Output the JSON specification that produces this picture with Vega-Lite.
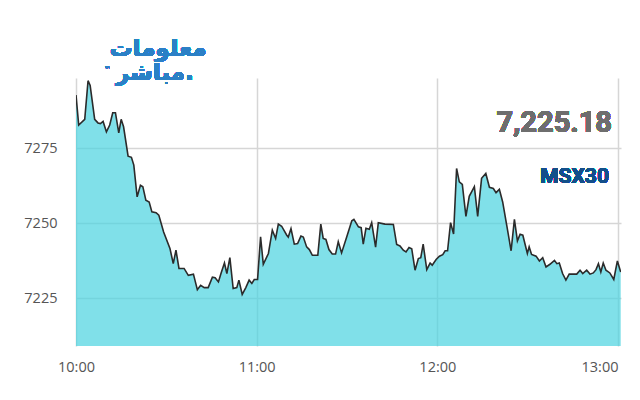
{
  "$schema": "https://vega.github.io/schema/vega-lite/v6.json",
  "autosize": "none",
  "width": 545,
  "height": 268,
  "padding": {"left": 76, "top": 78, "right": 19, "bottom": 54},
  "background": "white",
  "config": {"view": {"stroke": null}},
  "data": {"values": [
    {"t": 0.0, "v": 7292.8}, {"t": 0.9, "v": 7282.8}, {"t": 2.9, "v": 7284.7}, {"t": 4.0, "v": 7297.6},
    {"t": 4.7, "v": 7296}, {"t": 6.2, "v": 7284.7}, {"t": 7.3, "v": 7283.5}, {"t": 8.1, "v": 7283.3},
    {"t": 9.0, "v": 7284}, {"t": 10.1, "v": 7280.5}, {"t": 11.2, "v": 7282.8}, {"t": 12.2, "v": 7286.9},
    {"t": 13.1, "v": 7286.9}, {"t": 14.2, "v": 7280.2}, {"t": 15.0, "v": 7284.7}, {"t": 15.8, "v": 7282.2},
    {"t": 17.3, "v": 7272.4}, {"t": 18.4, "v": 7272}, {"t": 19.2, "v": 7269.4}, {"t": 20.3, "v": 7258.8},
    {"t": 21.4, "v": 7262.7}, {"t": 22.2, "v": 7262.2}, {"t": 23.2, "v": 7257.7}, {"t": 24.3, "v": 7257.1},
    {"t": 25.2, "v": 7253.8}, {"t": 26.6, "v": 7253.5}, {"t": 27.5, "v": 7252.7}, {"t": 29.1, "v": 7247.1},
    {"t": 31.2, "v": 7241.6}, {"t": 32.3, "v": 7236.5}, {"t": 33.2, "v": 7241}, {"t": 34.2, "v": 7234.9},
    {"t": 35.9, "v": 7234.9}, {"t": 37.3, "v": 7232.6}, {"t": 39.0, "v": 7233}, {"t": 40.3, "v": 7227.8},
    {"t": 41.4, "v": 7229.3}, {"t": 42.6, "v": 7228.5}, {"t": 43.9, "v": 7228.5}, {"t": 45.3, "v": 7232},
    {"t": 46.2, "v": 7231.8}, {"t": 47.3, "v": 7230.4}, {"t": 48.2, "v": 7233.4}, {"t": 49.3, "v": 7236.7},
    {"t": 50.1, "v": 7233.2}, {"t": 51.1, "v": 7238.5}, {"t": 52.2, "v": 7228.2}, {"t": 53.4, "v": 7228.5},
    {"t": 54.1, "v": 7231}, {"t": 55.2, "v": 7226.2}, {"t": 56.4, "v": 7228.5}, {"t": 57.5, "v": 7231},
    {"t": 58.4, "v": 7229.9}, {"t": 59.2, "v": 7231.2}, {"t": 60.3, "v": 7231.2}, {"t": 61.3, "v": 7245.5},
    {"t": 62.2, "v": 7236.3}, {"t": 63.9, "v": 7239.9}, {"t": 65.2, "v": 7247.7}, {"t": 66.3, "v": 7244.9},
    {"t": 67.2, "v": 7249.7}, {"t": 68.3, "v": 7249}, {"t": 70.0, "v": 7246}, {"t": 70.5, "v": 7245.4},
    {"t": 71.4, "v": 7248.2}, {"t": 72.5, "v": 7243}, {"t": 73.6, "v": 7243.2}, {"t": 74.7, "v": 7245.7},
    {"t": 75.5, "v": 7245.4}, {"t": 76.6, "v": 7242.1}, {"t": 77.5, "v": 7241.2}, {"t": 78.5, "v": 7239.3},
    {"t": 80.3, "v": 7239.3}, {"t": 81.3, "v": 7249.7}, {"t": 82.1, "v": 7244.9}, {"t": 83.0, "v": 7244.6},
    {"t": 84.0, "v": 7241.2}, {"t": 85.1, "v": 7239.7}, {"t": 86.2, "v": 7239.7}, {"t": 87.1, "v": 7243.8},
    {"t": 88.2, "v": 7240.1}, {"t": 89.9, "v": 7245.4}, {"t": 91.6, "v": 7250.8}, {"t": 92.3, "v": 7251.3},
    {"t": 93.8, "v": 7248.8}, {"t": 94.7, "v": 7248.5}, {"t": 95.4, "v": 7243}, {"t": 96.3, "v": 7248.3},
    {"t": 97.4, "v": 7248}, {"t": 98.2, "v": 7250.2}, {"t": 99.5, "v": 7242}, {"t": 100.4, "v": 7250.2},
    {"t": 102.6, "v": 7249.7}, {"t": 105.4, "v": 7249.6}, {"t": 106.5, "v": 7242.9}, {"t": 107.6, "v": 7242.4},
    {"t": 108.7, "v": 7241}, {"t": 109.6, "v": 7240.4}, {"t": 110.6, "v": 7241.9}, {"t": 111.5, "v": 7241.5},
    {"t": 112.6, "v": 7234.3}, {"t": 113.7, "v": 7238.2}, {"t": 114.5, "v": 7238.5}, {"t": 115.3, "v": 7243},
    {"t": 116.5, "v": 7234.5}, {"t": 117.6, "v": 7236.7}, {"t": 118.3, "v": 7236}, {"t": 119.6, "v": 7237.9},
    {"t": 120.7, "v": 7239}, {"t": 121.8, "v": 7239.5}, {"t": 122.6, "v": 7240.8}, {"t": 123.4, "v": 7240.8},
    {"t": 124.4, "v": 7250.2}, {"t": 125.4, "v": 7246.4}, {"t": 126.4, "v": 7268.3}, {"t": 127.3, "v": 7263.8},
    {"t": 128.3, "v": 7263}, {"t": 129.5, "v": 7252.3}, {"t": 130.6, "v": 7259}, {"t": 132.3, "v": 7262.2},
    {"t": 133.4, "v": 7252.3}, {"t": 134.7, "v": 7265}, {"t": 136.1, "v": 7266.6}, {"t": 137.3, "v": 7262},
    {"t": 138.6, "v": 7261.6}, {"t": 139.5, "v": 7260.2}, {"t": 140.6, "v": 7261.3}, {"t": 141.7, "v": 7257.1},
    {"t": 143.1, "v": 7249}, {"t": 144.5, "v": 7240.8}, {"t": 145.6, "v": 7251.3}, {"t": 146.6, "v": 7244.1},
    {"t": 147.5, "v": 7246.3}, {"t": 148.4, "v": 7246}, {"t": 149.9, "v": 7239.9}, {"t": 150.5, "v": 7242.1},
    {"t": 151.3, "v": 7239.6}, {"t": 152.8, "v": 7239}, {"t": 153.9, "v": 7237.4}, {"t": 155.0, "v": 7238.5},
    {"t": 156.1, "v": 7235.4}, {"t": 157.4, "v": 7236.3}, {"t": 158.9, "v": 7237.6}, {"t": 159.7, "v": 7236.5},
    {"t": 160.5, "v": 7236.7}, {"t": 161.6, "v": 7233.2}, {"t": 162.7, "v": 7231}, {"t": 163.8, "v": 7233},
    {"t": 166.3, "v": 7233}, {"t": 167.4, "v": 7234.3}, {"t": 168.3, "v": 7233.2}, {"t": 169.6, "v": 7234.3},
    {"t": 170.7, "v": 7233}, {"t": 171.8, "v": 7233.4}, {"t": 172.7, "v": 7234.5}, {"t": 173.5, "v": 7236.5},
    {"t": 174.3, "v": 7233.7}, {"t": 175.1, "v": 7236.7}, {"t": 176.0, "v": 7234.3}, {"t": 177.3, "v": 7233.4},
    {"t": 178.6, "v": 7231.2}, {"t": 179.8, "v": 7237.4}, {"t": 180.9, "v": 7233.7}
  ]},
  "encoding": {
    "x": {
      "field": "t", "type": "quantitative",
      "scale": {"domain": [0, 181], "nice": false, "zero": false},
      "axis": {
        "title": null, "values": [0, 60, 120, 180],
        "labelExpr": "floor(10 + datum.value / 60) + ':00'",
        "domain": false, "ticks": false,
        "grid": true, "gridColor": "#d6d6d6", "gridWidth": 1.5,
        "labelFont": "Open Sans", "labelFontSize": 14.5, "labelColor": "#555555",
        "labelPadding": 14,
        "labelAlign": {"condition": {"test": "datum.value >= 180", "value": "right"}, "value": "center"}
      }
    },
    "y": {
      "field": "v", "type": "quantitative",
      "scale": {"domain": [7209, 7298.5], "nice": false, "zero": false},
      "axis": {
        "title": null, "values": [7225, 7250, 7275], "format": "d",
        "domain": false, "ticks": false,
        "grid": true, "gridColor": "#d6d6d6", "gridWidth": 1.5,
        "labelFont": "Open Sans", "labelFontSize": 14.5, "labelColor": "#555555",
        "labelPadding": 19, "labelDy": -2
      }
    }
  },
  "layer": [
    {"mark": {"type": "area", "color": "#4AD3E0", "fillOpacity": 0.7, "clip": true}},
    {"mark": {"type": "line", "color": "#2b2b2b", "strokeWidth": 1.6, "clip": true}},
    {
      "mark": {"type": "text", "text": "7,225.18", "align": "right", "baseline": "alphabetic",
               "font": "Roboto", "fontSize": 29, "fontWeight": "bold", "color": "#6e6e6e"},
      "encoding": {"x": {"datum": 178.0}, "y": {"datum": 7280.5}}
    },
    {
      "mark": {"type": "text", "text": "MSX30", "align": "right", "baseline": "alphabetic",
               "font": "Roboto", "fontSize": 21, "fontWeight": "bold", "color": "#134f8a"},
      "encoding": {"x": {"datum": 177.0}, "y": {"datum": 7263.5}}
    },
    {
      "mark": {"type": "text", "text": "معلومات", "align": "center", "baseline": "alphabetic",
               "font": "DejaVu Sans", "fontSize": 23, "fontWeight": "bold", "color": "#2b80c6"},
      "encoding": {"x": {"datum": 27.2}, "y": {"datum": 7306.0}}
    },
    {
      "mark": {"type": "text", "text": "مباشر.", "align": "center", "baseline": "alphabetic",
               "font": "DejaVu Sans", "fontSize": 23, "fontWeight": "bold", "color": "#2b80c6"},
      "encoding": {"x": {"datum": 26.2}, "y": {"datum": 7297.8}}
    },
    {
      "mark": {"type": "text", "text": "™", "align": "center", "baseline": "middle",
               "font": "DejaVu Sans", "fontSize": 6, "color": "#2b80c6"},
      "encoding": {"x": {"datum": 10.5}, "y": {"datum": 7301.5}}
    }
  ]
}
